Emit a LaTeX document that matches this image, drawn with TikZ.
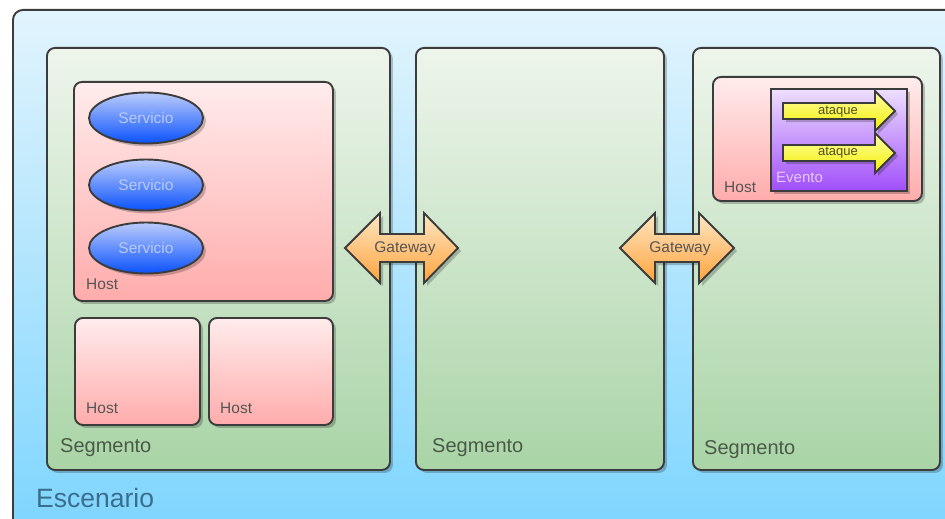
\documentclass[tikz,border=0pt]{standalone}
\usepackage{fontspec}
\setmainfont{Liberation Sans}
\usetikzlibrary{shadows,shapes.geometric}
\definecolor{lineC}{HTML}{3C3C3C}
\definecolor{escTop}{HTML}{E2F4FD}
\definecolor{escBot}{HTML}{7AD4FE}
\definecolor{segTop}{HTML}{EEF5EC}
\definecolor{segBot}{HTML}{A9D4A6}
\definecolor{hostTop}{HTML}{FFECEC}
\definecolor{hostBot}{HTML}{FFACAB}
\definecolor{svcTop}{HTML}{BCCCFC}
\definecolor{svcBot}{HTML}{0A52FC}
\definecolor{evTop}{HTML}{EEDFFE}
\definecolor{evBot}{HTML}{A04EFA}
\definecolor{atTop}{HTML}{FFFFA8}
\definecolor{atBot}{HTML}{F4EE00}
\definecolor{gwTop}{HTML}{FEE6C4}
\definecolor{gwBot}{HTML}{FFA43C}
\definecolor{svcText}{HTML}{B8CAFA}
\definecolor{hostText}{HTML}{555555}
\definecolor{segText}{HTML}{4A5A48}
\definecolor{escText}{HTML}{3A6E8C}
\definecolor{evText}{HTML}{E6C8FF}
\definecolor{atText}{HTML}{505020}
\begin{document}
\begin{tikzpicture}[x=1pt,y=-1pt,
  myshadow/.style={drop shadow={shadow xshift=3pt,shadow yshift=-3pt,opacity=0.22,fill=black}},
  boxA/.style={draw=lineC,line width=1.9pt,rounded corners=8pt,anchor=north west,inner sep=0pt,myshadow},
  segbox/.style={boxA,top color=segTop,bottom color=segBot},
  hostbox/.style={boxA,top color=hostTop,bottom color=hostBot},
  svc/.style={ellipse,draw=lineC,line width=1.9pt,top color=svcTop,bottom color=svcBot,minimum width=114pt,minimum height=51pt,inner sep=0pt,myshadow,text=svcText,font=\fontsize{15.5}{18}\selectfont},
  lbl/.style={anchor=west,inner sep=0pt},
  hostlbl/.style={lbl,text=hostText,font=\fontsize{15.5}{18}\selectfont},
  seglbl/.style={lbl,text=segText,font=\fontsize{20}{23}\selectfont},
  arrowshape/.style={draw=lineC,line width=1.9pt,miter limit=10,myshadow},
  gwshape/.style={arrowshape,top color=gwTop,bottom color=gwBot},
  atkshape/.style={arrowshape,top color=atTop,bottom color=atBot},
]
\useasboundingbox (0,0) rectangle (945,519);
\clip (0,0) rectangle (945,519);
% Escenario
\node[boxA,rounded corners=10pt,top color=escTop,bottom color=escBot,minimum width=960pt,minimum height=540pt] (esc) at (12,9) {};
\node[lbl,text=escText,font=\fontsize{26.5}{30}\selectfont] (escl) at (36,498) {Escenario};
% Segments
\node[segbox,minimum width=343pt,minimum height=422pt] (seg1) at (46,47) {};
\node[segbox,minimum width=248pt,minimum height=422pt] (seg2) at (415,47) {};
\node[segbox,minimum width=247pt,minimum height=422pt] (seg3) at (692,47) {};
\node[seglbl] (seg1l) at (60,448) {Segmento};
\node[seglbl] (seg2l) at (432,448) {Segmento};
\node[seglbl] (seg3l) at (704,450) {Segmento};
% Hosts segment 1
\node[hostbox,minimum width=259pt,minimum height=219pt] (host1) at (73,81) {};
\node[hostlbl] (host1l) at (86,284) {Host};
\node[svc] (svc1) at (146,118) {Servicio};
\node[svc] (svc2) at (146,185) {Servicio};
\node[svc] (svc3) at (146,248) {Servicio};
\node[hostbox,minimum width=125pt,minimum height=107pt] (host2) at (74,317) {};
\node[hostlbl] (host2l) at (86,408) {Host};
\node[hostbox,minimum width=124pt,minimum height=107pt] (host3) at (208,317) {};
\node[hostlbl] (host3l) at (220,408) {Host};
% Host segment 3
\node[hostbox,minimum width=209pt,minimum height=124pt] (host4) at (712,76) {};
\node[hostlbl] (host4l) at (724,187) {Host};
\node[boxA,rounded corners=0pt,top color=evTop,bottom color=evBot,minimum width=136pt,minimum height=102pt] (ev) at (770,88) {};
\node[lbl,text=evText,font=\fontsize{15}{18}\selectfont] (evl) at (776,177) {Evento};
% ataque arrows
\draw[atkshape] (783,103) -- (875,103) -- (875,91) -- (895,111) -- (875,131) -- (875,119) -- (783,119) -- cycle;
\node[text=atText,font=\fontsize{13}{15}\selectfont,inner sep=0pt] (at1) at (838,112) {ataque};
\draw[atkshape] (783,145) -- (875,145) -- (875,133) -- (895,153) -- (875,173) -- (875,161) -- (783,161) -- cycle;
\node[text=atText,font=\fontsize{13}{15}\selectfont,inner sep=0pt] (at2) at (838,153) {ataque};
% Gateways
\draw[gwshape] (345,248) -- (380,213) -- (380,234) -- (424,234) -- (424,213) -- (458,248) -- (424,283) -- (424,262) -- (380,262) -- (380,283) -- cycle;
\node[text=hostText,font=\fontsize{15.5}{18}\selectfont,inner sep=0pt] (gw1) at (405,249) {Gateway};
\draw[gwshape] (620,248) -- (655,213) -- (655,234) -- (699,234) -- (699,213) -- (734,248) -- (699,283) -- (699,262) -- (655,262) -- (655,283) -- cycle;
\node[text=hostText,font=\fontsize{15.5}{18}\selectfont,inner sep=0pt] (gw2) at (680,249) {Gateway};
\end{tikzpicture}
\end{document}
